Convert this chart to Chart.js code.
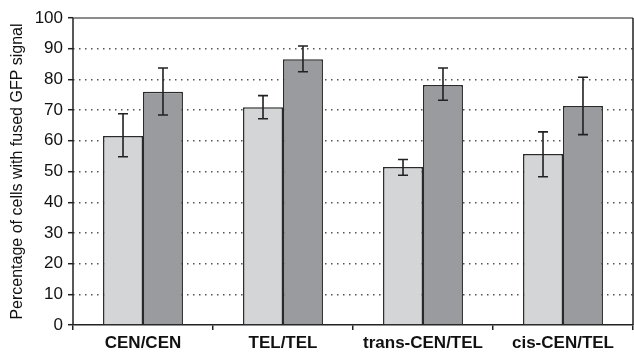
<!DOCTYPE html>
<html>
<head>
<meta charset="utf-8">
<script src="https://cdn.jsdelivr.net/npm/chart.js@4/dist/chart.umd.min.js"></script>
<style>
  html, body { margin: 0; padding: 0; background: #fff; }
  #wrap { width: 634px; height: 354px; }
</style>
</head>
<body>
<div id="wrap"><canvas id="fusionChart" width="634" height="354"></canvas></div>
<script>
// Chart data
const categories = ['CEN/CEN', 'TEL/TEL', 'trans-CEN/TEL', 'cis-CEN/TEL'];
const lightValues = [61.6, 70.9, 51.5, 55.7];
const lightErrLow = [54.8, 67.2, 48.8, 48.3];
const lightErrHigh = [68.8, 74.7, 53.9, 62.9];
const darkValues = [76.0, 86.6, 78.2, 71.3];
const darkErrLow = [68.4, 82.5, 73.2, 62.0];
const darkErrHigh = [83.7, 90.9, 83.7, 80.7];
const yTicks = [0, 10, 20, 30, 40, 50, 60, 70, 80, 90, 100];

const FONT = 'Arial, "Liberation Sans", Helvetica, sans-serif';

// Draws error bars for each dataset using the library scales
const errorBarPlugin = {
    id: 'errorBars',
    afterDatasetsDraw(chart) {
        const ctx = chart.ctx;
        const yScale = chart.scales.y;
        ctx.save();
        ctx.strokeStyle = '#222';
        ctx.lineWidth = 1.6;
        chart.data.datasets.forEach((ds, i) => {
            const meta = chart.getDatasetMeta(i);
            meta.data.forEach((bar, j) => {
                const x = bar.x;
                const yLo = yScale.getPixelForValue(ds.errLow[j]);
                const yHi = yScale.getPixelForValue(ds.errHigh[j]);
                ctx.beginPath();
                ctx.moveTo(x, yLo);
                ctx.lineTo(x, yHi);
                ctx.moveTo(x - 5, yLo);
                ctx.lineTo(x + 5, yLo);
                ctx.moveTo(x - 5, yHi);
                ctx.lineTo(x + 5, yHi);
                ctx.stroke();
            });
        });
        ctx.restore();
    }
};

// Frame lines: left axis, top and right
const framePlugin = {
    id: 'frame',
    afterDraw(chart) {
        const a = chart.chartArea;
        const ctx = chart.ctx;
        ctx.save();
        ctx.lineWidth = 1.5;
        ctx.strokeStyle = '#666';
        ctx.beginPath();
        ctx.moveTo(a.left, a.top);
        ctx.lineTo(a.right, a.top);
        ctx.stroke();
        ctx.strokeStyle = '#222';
        ctx.beginPath();
        ctx.moveTo(a.right, a.top);
        ctx.lineTo(a.right, a.bottom);
        ctx.moveTo(a.left, a.top);
        ctx.lineTo(a.left, a.bottom);
        ctx.stroke();
        ctx.restore();
    }
};

const ctx = document.getElementById('fusionChart').getContext('2d');

new Chart(ctx, {
    type: 'bar',
    data: {
        labels: categories,
        datasets: [{
            data: lightValues,
            errLow: lightErrLow,
            errHigh: lightErrHigh,
            backgroundColor: '#d4d5d7',
            borderColor: '#2a2a2a',
            borderWidth: 1.5,
            categoryPercentage: 0.571,
            barPercentage: 1
        }, {
            data: darkValues,
            errLow: darkErrLow,
            errHigh: darkErrHigh,
            backgroundColor: '#9a9b9f',
            borderColor: '#2a2a2a',
            borderWidth: 1.5,
            categoryPercentage: 0.571,
            barPercentage: 1
        }]
    },
    options: {
        responsive: false,
        animation: false,
        layout: {
            padding: { top: 18, right: 1, left: 0, bottom: 0 }
        },
        plugins: {
            legend: { display: false },
            tooltip: { enabled: false }
        },
        scales: {
            x: {
                afterFit: function(scale) { scale.height = 29; },
                grid: {
                    display: true,
                    drawOnChartArea: false,
                    offset: true,
                    tickLength: 5,
                    tickColor: '#222',
                    lineWidth: 1.5
                },
                border: { display: true, color: '#222', width: 1.5 },
                ticks: {
                    color: '#111',
                    padding: 3,
                    font: { family: FONT, size: 17, weight: 'bold' }
                }
            },
            y: {
                min: 0,
                max: 100,
                afterFit: function(scale) { scale.width = 73; },
                afterBuildTicks: function(scale) {
                    scale.ticks = yTicks.map(v => ({ value: v }));
                },
                grid: {
                    color: function(c) {
                        const v = c.tick ? c.tick.value : 0;
                        return (v === 0 || v === 100) ? 'rgba(0,0,0,0)' : '#555';
                    },
                    lineWidth: 1.4,
                    tickLength: 5,
                    tickColor: '#222',
                    tickBorderDash: [],
                    tickWidth: 1.5
                },
                // in v4 the grid line dash is read from border.dash
                border: { display: false, dash: [1.5, 4.5] },
                ticks: {
                    color: '#111',
                    padding: 5,
                    font: { family: FONT, size: 17 }
                },
                title: {
                    display: true,
                    text: 'Percentage of cells with fused GFP signal',
                    color: '#111',
                    padding: { top: 8, bottom: 0 },
                    font: { family: FONT, size: 16 }
                }
            }
        }
    },
    plugins: [errorBarPlugin, framePlugin]
});
</script>
</body>
</html>
